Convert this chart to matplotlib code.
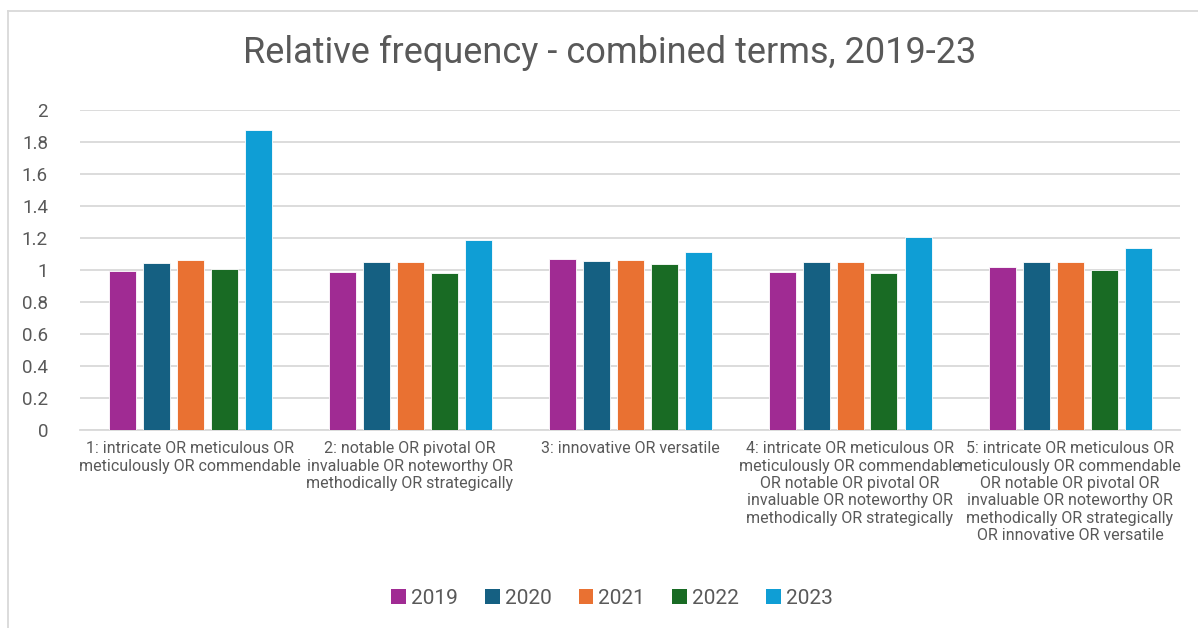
import matplotlib
matplotlib.use("Agg")
import matplotlib.pyplot as plt
import numpy as np
from matplotlib.lines import Line2D
from matplotlib.patches import Patch

plt.rcParams["font.family"] = ["Roboto", "DejaVu Sans"]

years = ["2019", "2020", "2021", "2022", "2023"]
categories = [
    "1: intricate OR meticulous OR\nmeticulously OR commendable",
    "2: notable OR pivotal OR\ninvaluable OR noteworthy OR\nmethodically OR strategically",
    "3: innovative OR versatile",
    "4: intricate OR meticulous OR\nmeticulously OR commendable\nOR notable OR pivotal OR\n"
    "invaluable OR noteworthy OR\nmethodically OR strategically",
    "5: intricate OR meticulous OR\nmeticulously OR commendable\nOR notable OR pivotal OR\n"
    "invaluable OR noteworthy OR\nmethodically OR strategically\nOR innovative OR versatile",
]
freq_2019 = [0.994, 0.990, 1.069, 0.988, 1.017]
freq_2020 = [1.042, 1.048, 1.058, 1.048, 1.048]
freq_2021 = [1.063, 1.050, 1.063, 1.050, 1.050]
freq_2022 = [1.004, 0.979, 1.035, 0.983, 1.002]
freq_2023 = [1.875, 1.188, 1.115, 1.208, 1.135]
series = [freq_2019, freq_2020, freq_2021, freq_2022, freq_2023]

colours = ["#A02B93", "#156082", "#E97132", "#196B24", "#0F9ED5"]
TEXT = "#595959"
GRID = "#d9d9d9"

fig = plt.figure(figsize=(11.98, 6.28), dpi=100, facecolor="white")
ax = fig.add_axes([80 / 1198, 1 - 430 / 628, 1100 / 1198, 320 / 628])

x = np.arange(len(categories))
pitch = 34 / 220
width = 27 / 220
for i, (vals, col) in enumerate(zip(series, colours)):
    ax.bar(x + (i - 2) * pitch, vals, width=width, color=col,
           edgecolor="white", linewidth=0.6, zorder=3)

ax.set_xlim(-0.5, len(categories) - 0.5)
ax.set_ylim(0, 2)
ax.set_yticks(np.arange(0, 2.01, 0.2))
ax.set_yticklabels(["0", "0.2", "0.4", "0.6", "0.8", "1", "1.2", "1.4",
                    "1.6", "1.8", "2"])
ax.set_xticks(x)
ax.set_xticklabels(categories, linespacing=1.2)
ax.tick_params(axis="y", length=0, pad=23, labelsize=13.5, labelcolor=TEXT)
ax.tick_params(axis="x", length=0, pad=8, labelsize=11.5, labelcolor=TEXT)
ax.yaxis.grid(True, color=GRID, linewidth=1.3)
ax.set_axisbelow(True)
for side in ("top", "right", "left"):
    ax.spines[side].set_visible(False)
ax.spines["bottom"].set_color(GRID)
ax.spines["bottom"].set_linewidth(1.3)

fig.text(610 / 1198, 1 - 53 / 628, "Relative frequency - combined terms, 2019-23",
         ha="center", va="center", fontsize=26, color=TEXT)

handles = [Patch(facecolor=c, edgecolor="none") for c in colours]
fig.legend(handles, years, loc="center", ncol=5,
           bbox_to_anchor=(612 / 1198, 1 - 598 / 628), frameon=False,
           fontsize=15, labelcolor=TEXT, handlelength=0.7, handleheight=0.7,
           handletextpad=0.25, columnspacing=1.3)

# chart frame
fig.add_artist(Line2D([8 / 1198, 8 / 1198], [0, 1 - 11 / 628],
                      transform=fig.transFigure, color=GRID, linewidth=1.3))
fig.add_artist(Line2D([8 / 1198, 1], [1 - 11 / 628, 1 - 11 / 628],
                      transform=fig.transFigure, color=GRID, linewidth=1.3))

fig.savefig("out.png", dpi=100, facecolor="white")
